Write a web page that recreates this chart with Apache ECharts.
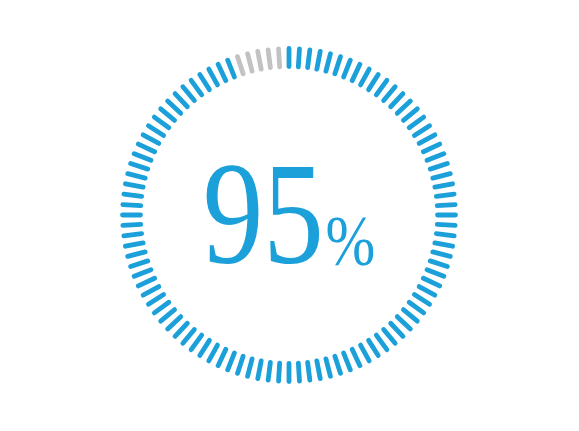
<!DOCTYPE html>
<html>
<head>
<meta charset="utf-8">
<script src="https://cdn.jsdelivr.net/npm/echarts@6/dist/echarts.min.js"></script>
<style>html,body{margin:0;padding:0;background:#fff;}#c{width:579px;height:431px;}</style>
</head>
<body>
<div id="c"></div>
<script>
const percentValue = 95;
const tickCount = 100;
const tickValues = [0, tickCount - 1];
const unitLabel = '%';

const blue = '#1ca0da';
const grey = '#c2c2c2';

const chart = echarts.init(document.getElementById('c'), null, {renderer: 'canvas'});
const threshold = (percentValue - 0.5) / (tickCount - 1);
chart.setOption({
  animation: false,
  series: [{
    type: 'gauge',
    center: [289, 215],
    radius: 166.5,
    startAngle: 90,
    endAngle: 90 - 360 * (tickCount - 1) / tickCount,
    min: tickValues[0],
    max: tickValues[1],
    splitNumber: tickCount - 1,
    axisLine: {show: false, lineStyle: {width: 0, color: [[threshold, blue], [1, grey]]}},
    progress: {show: false},
    pointer: {show: false},
    anchor: {show: false},
    axisTick: {show: false},
    axisLabel: {show: false},
    splitLine: {show: true, distance: 0, length: 18, lineStyle: {color: 'auto', width: 4.8, cap: 'round'}},
    title: {show: false},
    detail: {show: false},
    data: [{value: percentValue}]
  }],
  graphic: [{
    type: 'text',
    x: 289,
    y: 225,
    scaleX: 0.83,
    style: {
      text: '{a|' + percentValue + '}{b|' + unitLabel + '}',
      align: 'center',
      verticalAlign: 'middle',
      rich: {
        a: {fontFamily: 'Liberation Serif', fontWeight: 'normal', fontSize: 146, fill: blue, lineHeight: 146, verticalAlign: 'bottom'},
        b: {fontFamily: 'Liberation Serif', fontWeight: 'normal', fontSize: 72, fill: blue, lineHeight: 72, verticalAlign: 'bottom', padding: [0, 0, 16, 2]}
      }
    }
  }]
});
</script>
</body>
</html>
